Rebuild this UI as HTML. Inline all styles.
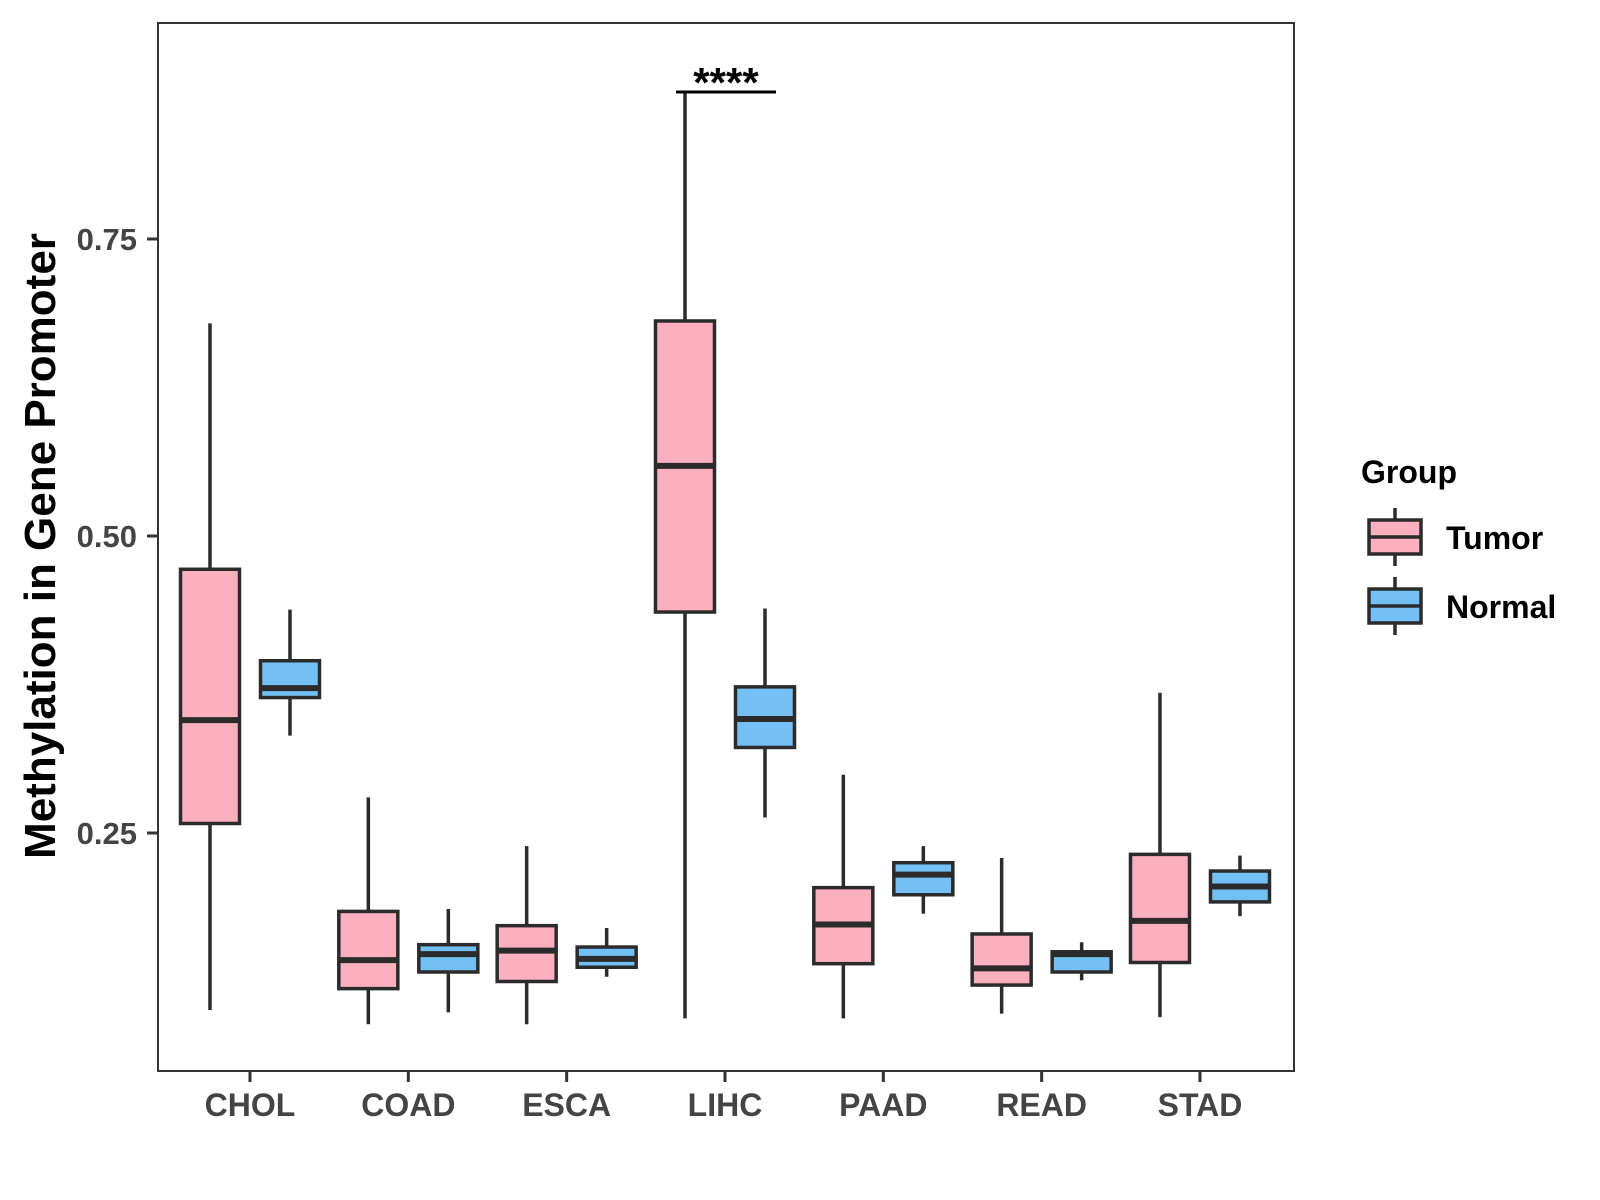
<!DOCTYPE html>
<html><head><meta charset="utf-8"><style>
html,body{margin:0;padding:0;background:#fff;}
svg{display:block;font-family:"Liberation Sans",Arial,sans-serif;}
</style></head><body>
<svg id="chart" width="1600" height="1200" viewBox="0 0 1600 1200" xmlns="http://www.w3.org/2000/svg">
<rect x="0" y="0" width="1600" height="1200" fill="#fff"/>
<g id="boxes"></g>
<rect x="158" y="23" width="1136" height="1048" fill="none" stroke="#333" stroke-width="2"/>
<g id="axes"></g>
<text x="0" y="0" transform="translate(55,546) rotate(-90)" text-anchor="middle" font-size="44" font-weight="bold" fill="#000">Methylation in Gene Promoter</text>
<g>
<line x1="676" y1="92" x2="776" y2="92" stroke="#000" stroke-width="3"/>
<text x="726" y="97" text-anchor="middle" font-size="42" font-weight="bold" fill="#000">****</text>
</g>
<g>
<text x="1361" y="483" font-size="32" font-weight="bold" fill="#000">Group</text>
<g>
<line x1="1395" y1="508" x2="1395" y2="566" stroke="#2b2b2b" stroke-width="3.5"/>
<rect x="1369" y="520" width="52" height="34" fill="#FBB0C0" stroke="#2b2b2b" stroke-width="3.5"/>
<line x1="1369" y1="537" x2="1421" y2="537" stroke="#2b2b2b" stroke-width="3.5"/>
<text x="1446" y="549" font-size="32" font-weight="bold" fill="#000">Tumor</text>
</g>
<g>
<line x1="1395" y1="577" x2="1395" y2="635" stroke="#2b2b2b" stroke-width="3.5"/>
<rect x="1369" y="589" width="52" height="34" fill="#74C0F5" stroke="#2b2b2b" stroke-width="3.5"/>
<line x1="1369" y1="606" x2="1421" y2="606" stroke="#2b2b2b" stroke-width="3.5"/>
<text x="1446" y="618" font-size="32" font-weight="bold" fill="#000">Normal</text>
</g>
</g>
</svg>
<script>
const categories = ["CHOL","COAD","ESCA","LIHC","PAAD","READ","STAD"];
const yTicks = [0.25, 0.50, 0.75];
const yTickLabels = ["0.25","0.50","0.75"];
// [low, q1, median, q3, high]
const tumorStats = [
  [0.101,0.258,0.345,0.472,0.679],
  [0.089,0.119,0.143,0.184,0.280],
  [0.089,0.125,0.151,0.172,0.239],
  [0.094,0.436,0.559,0.681,0.875],
  [0.094,0.140,0.173,0.204,0.299],
  [0.098,0.122,0.136,0.165,0.229],
  [0.095,0.141,0.176,0.232,0.368]
];
const normalStats = [
  [0.332,0.364,0.372,0.395,0.438],
  [0.099,0.133,0.148,0.156,0.186],
  [0.129,0.137,0.144,0.154,0.170],
  [0.263,0.322,0.346,0.373,0.439],
  [0.182,0.198,0.215,0.225,0.239],
  [0.126,0.133,0.148,0.150,0.158],
  [0.180,0.192,0.205,0.218,0.231]
];
const NS = "http://www.w3.org/2000/svg";
function yScale(v){ return 239 + (0.75 - v) * 1188; }
function xScale(i){ return 250 + 158.33 * i; }
function mk(tag, attrs, parent){
  const e = document.createElementNS(NS, tag);
  for (const k in attrs) e.setAttribute(k, attrs[k]);
  parent.appendChild(e); return e;
}
const boxes = document.getElementById('boxes');
const axes = document.getElementById('axes');
const BW = 59, OFF = 40, LC = "#2b2b2b";
function drawBox(s, cx, fill, name){
  const g = mk('g', {}, boxes);
  
  
  mk('line', {x1:cx,x2:cx,y1:yScale(s[4]),y2:yScale(s[0]),stroke:LC,'stroke-width':3.5}, g);
  mk('rect', {x:cx-BW/2,y:yScale(s[3]),width:BW,height:yScale(s[1])-yScale(s[3]),fill:fill,stroke:LC,'stroke-width':3.5}, g);
  mk('line', {x1:cx-BW/2,x2:cx+BW/2,y1:yScale(s[2]),y2:yScale(s[2]),stroke:LC,'stroke-width':6}, g);
}
categories.forEach((c, i) => {
  const cx = xScale(i);
  drawBox(tumorStats[i], cx - OFF, "#FBB0C0", 'box-' + c.toLowerCase() + '-tumor');
  drawBox(normalStats[i], cx + OFF, "#74C0F5", 'box-' + c.toLowerCase() + '-normal');
  const t = mk('line', {x1:cx,x2:cx,y1:1071,y2:1082,stroke:"#333",'stroke-width':3}, axes);
  
  
  const lb = mk('text', {x:cx,y:1116,'text-anchor':'middle','font-size':32,'font-weight':'bold',fill:'#444'}, axes);
  
  
  lb.textContent = c;
});
yTicks.forEach((v, i) => {
  const y = yScale(v);
  const t = mk('line', {x1:147,x2:158,y1:y,y2:y,stroke:"#333",'stroke-width':3}, axes);
  
  
  const lb = mk('text', {x:137,y:y+11,'text-anchor':'end','font-size':31,'font-weight':'bold',fill:'#444'}, axes);
  
  
  lb.textContent = yTickLabels[i];
});
</script>
</body></html>
